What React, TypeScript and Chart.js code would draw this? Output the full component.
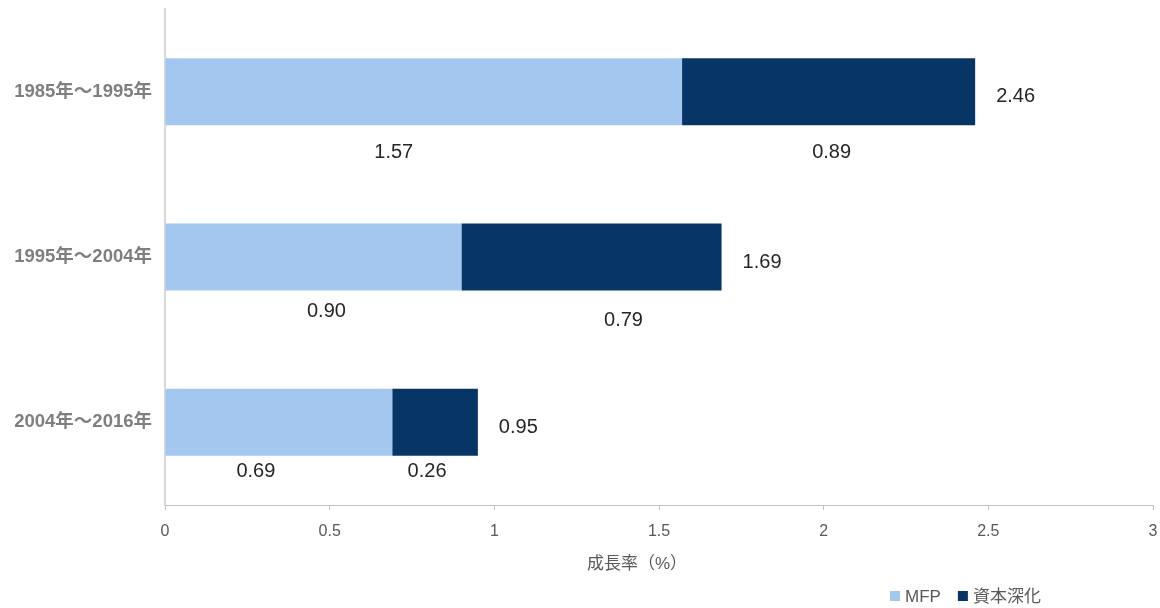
import { useEffect, useRef } from "react";
import { Chart, registerables } from "chart.js";

Chart.register(...registerables);

const categories = ["1985年～1995年", "1995年～2004年", "2004年～2016年"];
const seriesNames = ["MFP", "資本深化"];
const mfpValues = [1.57, 0.9, 0.69];
const capitalValues = [0.89, 0.79, 0.26];
const xTickValues = [0, 0.5, 1, 1.5, 2, 2.5, 3];
const xAxisTitle = "成長率（%）";

const seriesColors = ["#A4C7F0", "#073666"];
// label nudges (px) relative to segment centre / bar bottom, as placed in the original
const mfpLabelNudge = [[-30, 27], [13, 21], [-23, 16]];
const capitalLabelNudge = [[3, 27], [32, 30], [-8, 16]];

const FONT = '"Liberation Sans", Arial, "Noto Sans CJK JP", sans-serif';

const labelPlugin = {
  id: "valueLabels",
  afterDatasetsDraw(chart: any) {
    const ctx = chart.ctx;
    ctx.save();
    ctx.font = `20px ${FONT}`;
    ctx.fillStyle = "#262626";
    ctx.textBaseline = "middle";
    const m0 = chart.getDatasetMeta(0).data;
    const m1 = chart.getDatasetMeta(1).data;
    categories.forEach((_, i) => {
      const a = m0[i];
      const b = m1[i];
      const bottomA = a.y + a.height / 2;
      ctx.textAlign = "center";
      ctx.fillText(
        mfpValues[i].toFixed(2),
        (a.x + a.base) / 2 + mfpLabelNudge[i][0],
        bottomA + mfpLabelNudge[i][1]
      );
      ctx.fillText(
        capitalValues[i].toFixed(2),
        (b.x + b.base) / 2 + capitalLabelNudge[i][0],
        bottomA + capitalLabelNudge[i][1]
      );
      ctx.textAlign = "left";
      const total = mfpValues[i] + capitalValues[i];
      ctx.fillText(total.toFixed(2), b.x + 21, b.y + 5);
    });
    ctx.restore();
  },
  afterDraw(chart: any) {
    const ctx = chart.ctx;
    ctx.save();
    // axis title
    ctx.font = `17px ${FONT}`;
    ctx.fillStyle = "#595959";
    ctx.textAlign = "center";
    ctx.textBaseline = "middle";
    const area = chart.chartArea;
    ctx.fillText(xAxisTitle, (area.left + area.right) / 2 - 22, 564);
    // legend
    ctx.font = `17px ${FONT}`;
    ctx.textAlign = "left";
    let x = 890;
    const y = 596;
    seriesNames.forEach((name, i) => {
      ctx.fillStyle = seriesColors[i];
      ctx.fillRect(x, y - 5, 10, 10);
      ctx.fillStyle = "#595959";
      ctx.fillText(name, x + 15, y + 1);
      x += 15 + ctx.measureText(name).width + 17;
    });
    ctx.restore();
  },
};

export default function App() {
  const ref = useRef<HTMLCanvasElement>(null);
  useEffect(() => {
    if (!ref.current) return;
    const chart = new Chart(ref.current, {
      type: "bar",
      data: {
        labels: categories,
        datasets: [
          {
            label: seriesNames[0],
            data: mfpValues,
            backgroundColor: seriesColors[0],
            borderWidth: 0,
            categoryPercentage: 1,
            barPercentage: 0.405,
          },
          {
            label: seriesNames[1],
            data: capitalValues,
            backgroundColor: seriesColors[1],
            borderWidth: 0,
            categoryPercentage: 1,
            barPercentage: 0.405,
          },
        ],
      },
      options: {
        indexAxis: "y",
        animation: false,
        responsive: false,
        devicePixelRatio: 1,
        layout: { padding: { top: 9, right: 7, left: 0, bottom: 0 } },
        plugins: { legend: { display: false }, tooltip: { enabled: false } },
        scales: {
          x: {
            stacked: true,
            min: 0,
            max: 3,
            afterBuildTicks: (s: any) => {
              s.ticks = xTickValues.map((v) => ({ value: v }));
            },
            afterFit: (s: any) => {
              s.height = 103;
              s.paddingLeft = 0;
              s.paddingRight = 0;
            },
            ticks: {
              font: { family: FONT, size: 16 },
              color: "#595959",
              padding: 12,
              maxRotation: 0,
              callback: (v: any) => String(v),
            },
            grid: {
              display: true,
              drawOnChartArea: false,
              drawTicks: true,
              tickLength: 5,
              color: "#bfbfbf",
            },
            border: { display: true, color: "#bfbfbf", width: 1 },
          },
          y: {
            stacked: true,
            afterFit: (s: any) => {
              s.width = 165;
              s.paddingTop = 0;
              s.paddingBottom = 0;
            },
            ticks: {
              font: { family: FONT, size: 18.5, weight: "bold" },
              color: "#7f7f7f",
              padding: 13,
            },
            grid: { display: true, drawOnChartArea: false, drawTicks: false },
            border: { display: true, color: "#d9d9d9", width: 2 },
          },
        },
      },
      plugins: [labelPlugin],
    } as any);
    return () => chart.destroy();
  }, []);
  return (
    <div style={{ position: "fixed", left: 0, top: 0, width: 1160, height: 608, background: "#fff" }}>
      <canvas ref={ref} width={1160} height={608} />
    </div>
  );
}
